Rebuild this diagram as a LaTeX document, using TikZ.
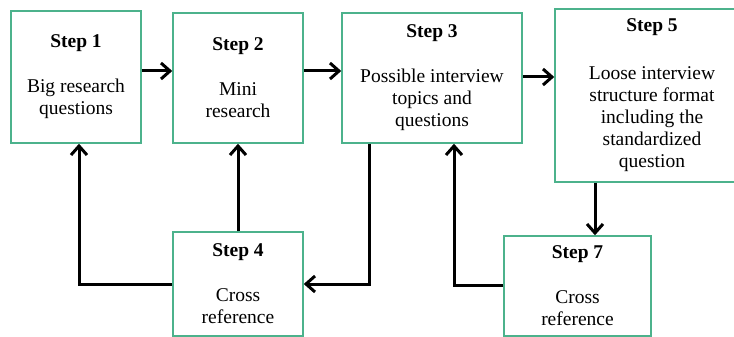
\documentclass[tikz,border=0pt]{standalone}
\usepackage{fontspec}
\setmainfont{LiberationSerif}[Extension=.ttf, UprightFont=*-Regular, BoldFont=*-Bold]
\usepackage{tikz}
\usetikzlibrary{arrows.meta,calc}

\definecolor{boxgreen}{RGB}{76,178,140}

\tikzset{
    stepbox/.style={draw=boxgreen, line width=1.5pt, fill=white, align=center, inner sep=0pt,
        font=\rmfamily\fontsize{19.5}{22}\selectfont},
    flow/.style={line width=3pt, -{Straight Barb[length=9pt,width=16pt]}}
}

\begin{document}
\begin{tikzpicture}[x=1pt,y=-1pt]
    \useasboundingbox (0,0) rectangle (734,337);
    \newcommand{\gap}{23pt}
    % top row
    \node[stepbox, minimum width=130pt, minimum height=132pt] (s1) at (76,77) {\textbf{Step 1}\\[\gap]Big research\\questions};
    \node[stepbox, minimum width=130pt, minimum height=130pt] (s2) at (238,78) {\textbf{Step 2}\\[\gap]Mini\\research};
    \node[stepbox, minimum width=180pt, minimum height=130pt] (s3) at (432,78) {\textbf{Step 3}\\[\gap]Possible interview\\topics and\\questions};
    \node[stepbox, minimum width=194pt, minimum height=173pt] (s5) at (652,95.5) {\textbf{Step 5}\\[26pt]Loose interview\\structure format\\including the\\standardized\\question};
    % bottom row
    \node[stepbox, minimum width=130pt, minimum height=104pt] (s4) at (238,284) {\textbf{Step 4}\\[\gap]Cross\\reference};
    \node[stepbox, minimum width=147pt, minimum height=100pt] (s7) at (577.5,286) {\textbf{Step 7}\\[\gap]Cross\\reference};

    \draw[flow] ([yshift=6pt]s1.east) -- ([yshift=6pt]s1.east -| s2.west);
    \draw[flow] ([yshift=7pt]s2.east) -- ([yshift=7pt]s2.east -| s3.west);
    \draw[flow] ([yshift=1pt]s3.east) -- ([yshift=1pt]s3.east -| s5.west);
    \draw[flow] ([xshift=-57pt]s5.south) -- ([xshift=-57pt]s5.south |- s7.north);
    % feedback
    \draw[flow] (s4.west) -| ([xshift=3pt]s1.south);
    \draw[flow] (s4.north) -- (s2.south);
    \draw[flow] ([xshift=-63pt]s3.south) |- (s4.east);
    \draw[flow] ([yshift=1pt]s7.west) -| ([xshift=22pt]s3.south);
\end{tikzpicture}
\end{document}
